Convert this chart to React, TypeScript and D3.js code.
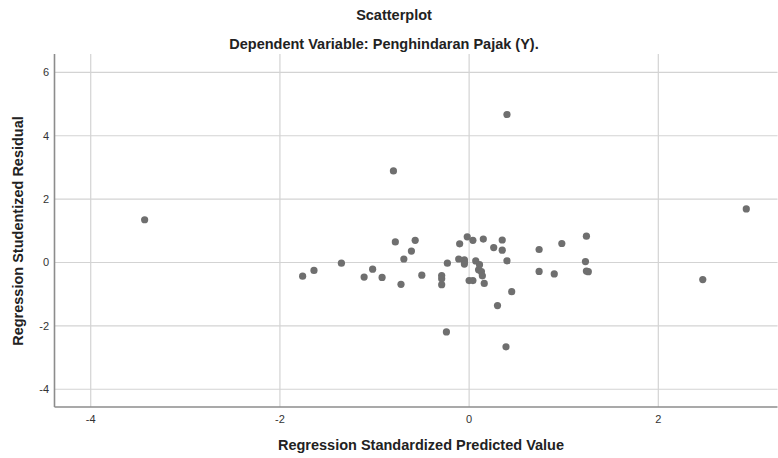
import React from "react";
import * as d3 from "d3";

const predicted: number[] = [
  -3.43, -1.76, -1.64, -1.35, -1.11, -1.02, -0.92, -0.78, -0.8, -0.72,
  -0.69, -0.61, -0.57, -0.5, -0.29, -0.29, -0.29, -0.24, -0.23, -0.11,
  -0.1, -0.05, -0.05, -0.05, -0.02, 0.04, 0.15, 0.07, 0.11, 0.1,
  0.13, 0.14, 0.0, 0.04, 0.16, 0.26, 0.35, 0.35, 0.4, 0.39,
  0.4, 0.45, 0.3, 0.74, 0.74, 0.9, 0.98, 1.24, 1.23, 1.24,
  1.26, 2.47, 2.93,
];
const residual: number[] = [
  1.35, -0.43, -0.25, -0.02, -0.46, -0.21, -0.47, 0.65, 2.89, -0.69,
  0.11, 0.36, 0.7, -0.4, -0.41, -0.51, -0.7, -2.19, -0.02, 0.11,
  0.59, 0.085, 0.02, -0.05, 0.81, 0.7, 0.74, 0.05, -0.07, -0.23,
  -0.29, -0.42, -0.57, -0.57, -0.66, 0.47, 0.71, 0.39, 0.054, -2.66,
  4.67, -0.92, -1.36, 0.41, -0.28, -0.36, 0.6, 0.83, 0.03, -0.27,
  -0.29, -0.54, 1.69,
];
const xTicks: number[] = [-4, -2, 0, 2];
const yTicks: number[] = [-4, -2, 0, 2, 4, 6];
const title = "Scatterplot";
const subtitle = "Dependent Variable: Penghindaran Pajak (Y).";
const xLabel = "Regression Standardized Predicted Value";
const yLabel = "Regression Studentized Residual";

const W = 778;
const H = 458;
const left = 54.5;
const right = 777.5;
const top = 54;
const bottom = 407;

export default function App() {
  const x = d3.scaleLinear().domain([-4.383, 3.26]).range([left, right]);
  const y = d3.scaleLinear().domain([-4.56, 6.58]).range([bottom, top]);
  const font = "'Liberation Sans', Arial, sans-serif";
  const pts = d3.zip(predicted, residual);
  return (
    <svg
      width={W}
      height={H}
      style={{ position: "absolute", left: 0, top: 0, background: "#fff" }}
      fontFamily={font}
    >
      <rect x={0} y={0} width={W} height={H} fill="#fff" />
      {xTicks.map((t) => (
        <line key={"gx" + t} x1={x(t)} x2={x(t)} y1={top} y2={bottom} stroke="#d3d3d3" strokeWidth={1.2} />
      ))}
      {yTicks.map((t) => (
        <line key={"gy" + t} x1={left} x2={right} y1={y(t)} y2={y(t)} stroke="#d3d3d3" strokeWidth={1.2} />
      ))}
      <line x1={left} x2={left} y1={top} y2={bottom} stroke="#8c8c8c" strokeWidth={1.6} />
      <line x1={left} x2={right} y1={bottom} y2={bottom} stroke="#8c8c8c" strokeWidth={1.6} />
      {yTicks.map((t) => (
        <text key={"ty" + t} x={49} y={y(t)} dy="0.35em" textAnchor="end" fontSize={11} fill="#333">
          {t}
        </text>
      ))}
      {xTicks.map((t) => (
        <text key={"tx" + t} x={x(t)} y={423} textAnchor="middle" fontSize={11} fill="#333">
          {t}
        </text>
      ))}
      {pts.map(([px, py], i) => (
        <circle key={i} cx={x(px)} cy={y(py)} r={3.6} fill="#6f6f6f" />
      ))}
      <text x={394} y={20} textAnchor="middle" fontSize={14.5} fontWeight="bold" fill="#222">
        {title}
      </text>
      <text x={384} y={49} textAnchor="middle" fontSize={14.5} fontWeight="bold" fill="#222">
        {subtitle}
      </text>
      <text x={421} y={450} textAnchor="middle" fontSize={14.5} fontWeight="bold" fill="#222">
        {xLabel}
      </text>
      <text
        transform={`translate(23,231) rotate(-90)`}
        textAnchor="middle"
        fontSize={14.5}
        fontWeight="bold"
        fill="#222"
      >
        {yLabel}
      </text>
    </svg>
  );
}
